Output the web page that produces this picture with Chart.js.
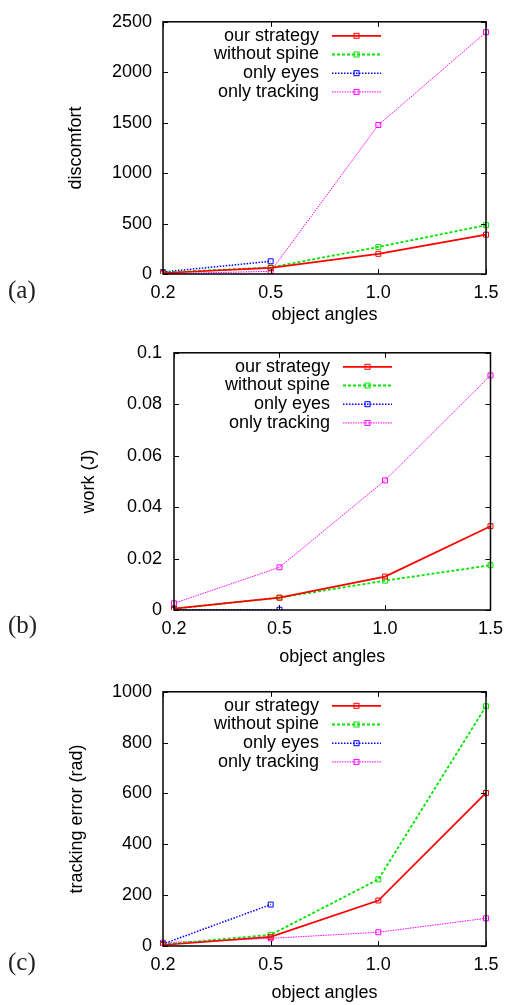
<!DOCTYPE html>
<html>
<head>
<meta charset="utf-8">
<script src="https://cdn.jsdelivr.net/npm/chart.js@4/dist/chart.umd.min.js"></script>
<style>
  body { margin: 0; background: #fff; }
  #wrap { position: relative; width: 511px; height: 1005px; overflow: hidden; }
  canvas { position: absolute; left: 0; }
  .tag { position: absolute; left: 8px; font-family: "Liberation Serif", "DejaVu Serif", serif; font-size: 25px; color: #222; line-height: 1; }
</style>
</head>
<body>
<div id="wrap">
  <canvas id="chartA" style="top:0px"></canvas>
  <canvas id="chartB" style="top:330px"></canvas>
  <canvas id="chartC" style="top:670px"></canvas>
  <div class="tag" style="top:277px">(a)</div>
  <div class="tag" style="top:612px">(b)</div>
  <div class="tag" style="top:949px">(c)</div>
</div>
<script>
// x categories (object angles)
const angles = ["0.2", "0.5", "1.0", "1.5"];
const seriesNames = ["our strategy", "without spine", "only eyes", "only tracking"];

// (a) discomfort
const discomfortOur = [10, 60, 200, 390];
const discomfortNoSpine = [15, 65, 268, 484];
const discomfortEyes = [20, 126, null, null];
const discomfortTracking = [3, 26, 1477, 2397];
const discomfortTicks = [0, 500, 1000, 1500, 2000, 2500];

// (b) work (J)
const workOur = [0.0005, 0.0048, 0.013, 0.0326];
const workNoSpine = [0.0005, 0.0048, 0.0114, 0.0174];
const workEyes = [0.0001, 0.0001, null, null];
const workTracking = [0.0026, 0.0166, 0.0504, 0.0912];
const workTicks = [0, 0.02, 0.04, 0.06, 0.08, 0.1];
const workTickLabels = ["0", "0.02", "0.04", "0.06", "0.08", "0.1"];

// (c) tracking error (rad)
const errorOur = [4, 36, 179, 602];
const errorNoSpine = [6, 44, 262, 943];
const errorEyes = [8, 163, null, null];
const errorTracking = [13, 30, 54, 109];
const errorTicks = [0, 200, 400, 600, 800, 1000];

const FONT = "'Liberation Sans', Arial, sans-serif";
const styles = [
  { color: "#ff0000", dash: [], width: 1.7 },
  { color: "#00e600", dash: [3, 2], width: 1.8 },
  { color: "#0000ff", dash: [1.5, 1.5], width: 1.5 },
  { color: "#ff00ff", dash: [1.5, 1], width: 1 }
];

function makeDatasets(values) {
  return values.map((v, i) => ({
    label: seriesNames[i],
    data: v,
    borderColor: styles[i].color,
    borderDash: styles[i].dash,
    borderWidth: styles[i].width,
    pointStyle: "rect",
    pointRadius: 3.5,
    pointBorderWidth: 1,
    pointBorderColor: styles[i].color,
    pointBackgroundColor: "rgba(255,255,255,0)",
    tension: 0,
    spanGaps: false
  }));
}

// frame with inward ticks on all four sides, like gnuplot
const framePlugin = {
  id: "frame",
  afterDatasetsDraw(chart) {
    const { ctx, chartArea: a, scales } = chart;
    ctx.save();
    ctx.strokeStyle = "#000";
    ctx.lineWidth = 1;
    ctx.setLineDash([]);
    scales.x.ticks.forEach((t, i) => {
      const px = Math.round(scales.x.getPixelForTick(i)) + 0.5;
      ctx.beginPath();
      ctx.moveTo(px, a.bottom); ctx.lineTo(px, a.bottom - 5);
      ctx.moveTo(px, a.top); ctx.lineTo(px, a.top + 5);
      ctx.stroke();
    });
    scales.y.ticks.forEach((t, i) => {
      const py = Math.round(scales.y.getPixelForTick(i)) + 0.5;
      ctx.beginPath();
      ctx.moveTo(a.left, py); ctx.lineTo(a.left + 5, py);
      ctx.moveTo(a.right, py); ctx.lineTo(a.right - 5, py);
      ctx.stroke();
    });
    ctx.lineWidth = 1.5;
    ctx.strokeRect(a.left, a.top, a.right - a.left, a.bottom - a.top);
    ctx.restore();
  }
};

// gnuplot-style key: text right aligned, sample line after it
const keyPlugin = {
  id: "key",
  afterDatasetsDraw(chart) {
    const { ctx, chartArea: a } = chart;
    ctx.save();
    ctx.font = "18px " + FONT;
    ctx.textAlign = "right";
    ctx.textBaseline = "middle";
    chart.data.datasets.forEach((ds, i) => {
      const y = a.top + 14 + i * 18.7;
      ctx.fillStyle = "#000";
      ctx.fillText(ds.label, a.left + 156, y);
      ctx.strokeStyle = ds.borderColor;
      ctx.lineWidth = ds.borderWidth;
      ctx.setLineDash(ds.borderDash);
      ctx.beginPath();
      ctx.moveTo(a.left + 169, y);
      ctx.lineTo(a.left + 218, y);
      ctx.stroke();
      ctx.setLineDash([]);
      ctx.lineWidth = 1;
      ctx.strokeRect(a.left + 191, y - 2.5, 5, 5);
    });
    ctx.restore();
  }
};

function makeChart(id, height, values, yTitle, ticks, tickLabels, lay) {
  const canvas = document.getElementById(id);
  canvas.width = 511;
  canvas.height = height;
  canvas.style.width = "511px";
  canvas.style.height = height + "px";
  return new Chart(canvas, {
    type: "line",
    data: { labels: angles, datasets: makeDatasets(values) },
    plugins: [framePlugin, keyPlugin],
    options: {
      responsive: false,
      animation: false,
      layout: { padding: { top: lay.top, right: lay.right, left: 0, bottom: 0 } },
      plugins: { legend: { display: false }, tooltip: { enabled: false } },
      scales: {
        x: {
          offset: false,
          grid: { display: false, drawTicks: false },
          border: { display: false },
          ticks: { color: "#000", font: { family: FONT, size: 18 }, padding: 8, maxRotation: 0, autoSkip: false },
          title: { display: true, text: "object angles", color: "#000", font: { family: FONT, size: 18 }, padding: { top: 0, bottom: lay.xTitle } },
          afterFit: s => { s.height = lay.xHeight; }
        },
        y: {
          min: ticks[0],
          max: ticks[ticks.length - 1],
          grid: { display: false, drawTicks: false },
          border: { display: false },
          afterBuildTicks: s => { s.ticks = ticks.map(v => ({ value: v })); },
          ticks: {
            color: "#000",
            font: { family: FONT, size: 18 },
            padding: lay.yPad,
            callback: (v, i) => tickLabels[i]
          },
          title: { display: true, text: yTitle, color: "#000", font: { family: FONT, size: 18 }, padding: { top: lay.yTitle, bottom: 0 } },
          afterFit: s => { s.width = lay.yWidth; }
        }
      }
    }
  });
}

makeChart("chartA", 330,
  [discomfortOur, discomfortNoSpine, discomfortEyes, discomfortTracking],
  "discomfort", discomfortTicks, discomfortTicks.map(String),
  { top: 16, right: 25, xHeight: 56, xTitle: 4.2, yWidth: 163, yPad: 11, yTitle: 65 });

makeChart("chartB", 340,
  [workOur, workNoSpine, workEyes, workTracking],
  "work (J)", workTicks, workTickLabels,
  { top: 22.7, right: 14, xHeight: 60, xTitle: 2.2, yWidth: 174, yPad: 12, yTitle: 78 });

makeChart("chartC", 335,
  [errorOur, errorNoSpine, errorEyes, errorTracking],
  "tracking error (rad)", errorTicks, errorTicks.map(String),
  { top: 19, right: 25, xHeight: 59, xTitle: 1.2, yWidth: 163, yPad: 11, yTitle: 66 });
</script>
</body>
</html>
